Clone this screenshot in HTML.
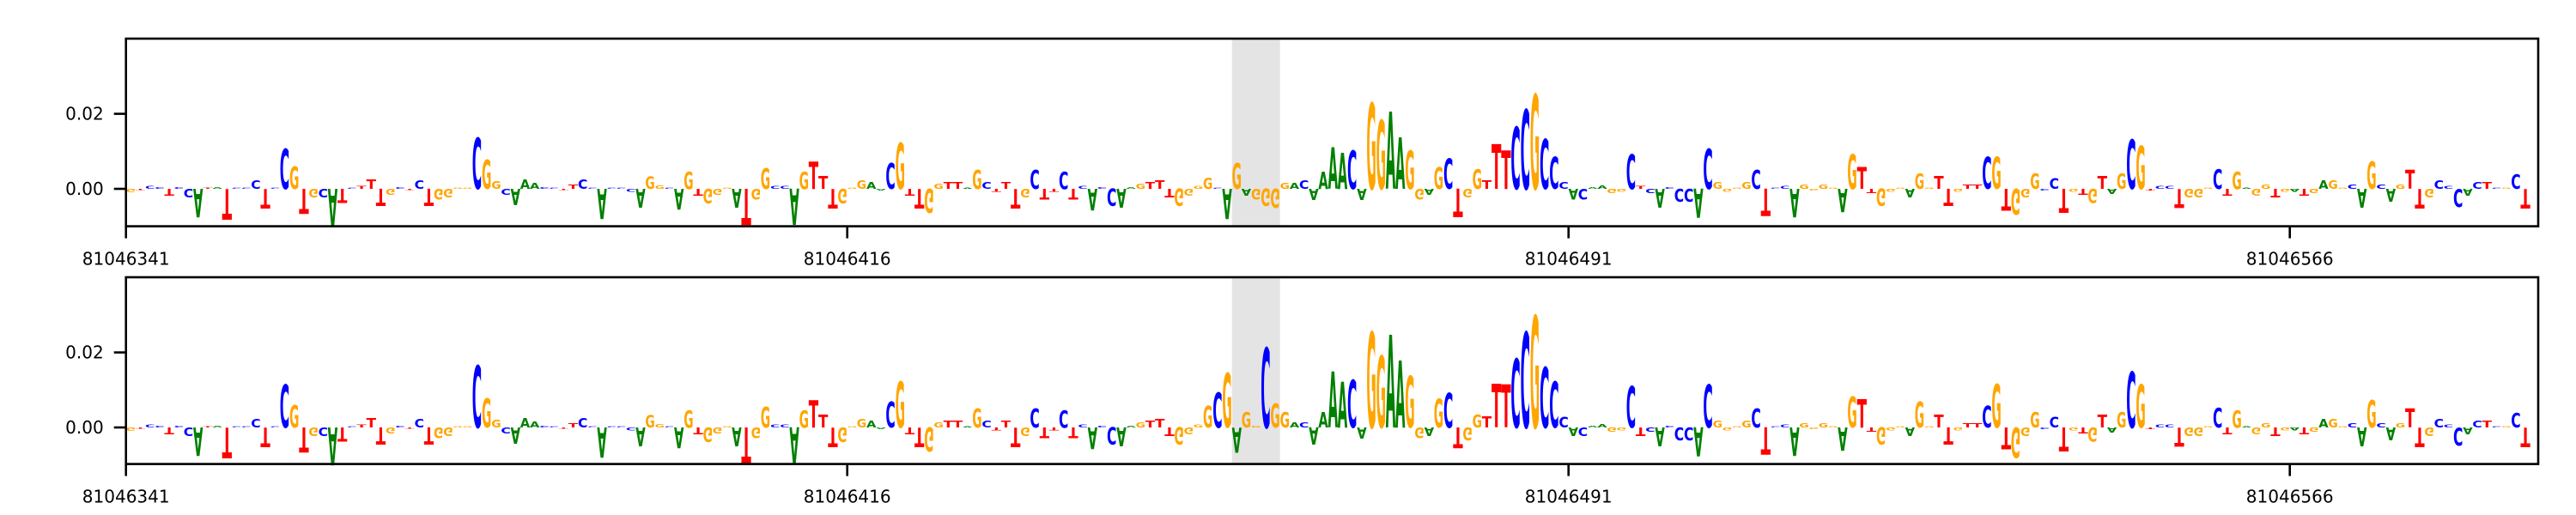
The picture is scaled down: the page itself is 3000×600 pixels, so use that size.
<!DOCTYPE html>
<html><head><meta charset="utf-8"><style>
html,body{margin:0;padding:0;background:#fff;}
svg{display:block;}
text{font-family:"DejaVu Sans","Liberation Sans",sans-serif;}
</style></head><body>
<svg id="chart" width="3000" height="600" viewBox="0 0 3000 600" xmlns="http://www.w3.org/2000/svg"></svg>
<script>
// Data (attribution heights in units of 1/4370 score)
const seq1 = ("GTCCTCCATA"+"TCCCTCCGTG"+"CATCTTTGCT"+"CTGGGGCGGC"+"AAACCTTCCA"+"CCCAGGCAGT"+"GGGATGGCCA"+"GTTTG"+"GGAAC"+
"GTTGGTTAGC"+"TTTGCTTCTC"+"ACCAAGTTTG"+"GGGCA"+"GAGGG"+"GACAAAACAG"+"GAAGGAGCTG"+"GTTTCCGCCC"+"ACAAGGCTC"+"ACCCA"+"CGGGGC"+
"TCCAGGGGAG"+"TTGGGAGGTT"+"GTTCGTGGGC"+"CTGTGTAGCG"+"TCCTGGGCTG"+"AGGTGATGAG"+"GCAGCAGTTG"+"CCCACTCGCT").split("");
const seq2 = ("GTCCTCCATA"+"TCCCTCCGTG"+"CATCTTTGCT"+"CTGGGGCGGC"+"AAACCTTCCA"+"CCCAGGCAGT"+"GGGATGGCCA"+"GTTTG"+"GGAAC"+
"GTTGGTTAGC"+"TTTGCTTCTC"+"ACCAAGTTTG"+"GGGCG"+"AGGCG"+"GACAAAACAG"+"GAAGGAGCTG"+"GTTTCCGCCC"+"ACAAGGCTC"+"ACCCA"+"CGGGGC"+
"TCCAGGGGAG"+"TTGGGAGGTT"+"GTTCGTGGGC"+"CTGTGTAGCG"+"TCCTGGGCTG"+"AGGTGATGAG"+"GCAGCAGTTG"+"CCCACTCGCT").split("");
const vals1 = [-4,-1,3,2,-8,2,-10,-33,1,2, -36,1,1,10,-23,1,47,26,-29,-10, -10,-44,-16,1,3,11,-20,-7,2,-1,
 10,-20,-12,-10,1,1,59,34,9,-7, -19,11,7,2,1,-1,5,11,1,-35, 1,1,-3,-22,14,4,1,-24,20,-8, -17,-7,1,-22,-42,-12,24,3,3,-42,
 20,32,15,-23,-17, 1,10,8,-2,30, 53,-8,-23,-28,6,8,8,1,22,8, -3,8,-23,-10,22,-12,-3,20,-12,3, -25,2,-20,-22,2,6,8,10,-10,-20,
 -8,3,13,1,-35, 30,-8,-12,-20,-22, 7,7,10,-13,20,48,42,45,-13,100, 80,90,60,45,-12,-7,25,35,-33,-10, 23,10,52,45,72,92,110,58,37,8,
 -12,-12,2,4,-5,-3,40,3,-5, -22,2,-15,-15,-34, 47,8,-3,1,8,22, -32,1,3,-33,5,-2,5,1,-27,40, 25,-5,-20,-3,1,-10,18,1,15,-20,
 -3,5,5,37,37,-25,-30,-10,18,-2, 12,-28,-3,-7,-16,15,-6,18,57,50, -2,3,3,-22,-10,-10,1,23,-8,20, 1,-8,5,-10,-3,-3,-8,-5,10,10,
 1,5,-22,32,5,-15,5,22,-23,-10, 10,3,-21,-8,8,8,1,1,17,-23];
const vals2 = [-4,-1,3,2,-8,2,-10,-33,1,2, -36,1,1,10,-23,1,50,26,-29,-10, -10,-44,-16,1,3,11,-20,-7,2,-1,
 10,-20,-12,-10,1,1,72,34,9,-7, -19,11,7,2,1,-1,5,11,1,-35, 1,1,-3,-22,14,4,1,-24,20,-8, -17,-7,1,-22,-42,-12,24,3,3,-42,
 20,32,15,-23,-17, 1,10,8,-2,30, 53,-8,-23,-28,6,8,8,1,22,8, -3,8,-23,-10,22,-12,-3,20,-12,3, -25,2,-20,-22,2,6,8,10,-10,-20,
 -8,3,25,41,63, -29,18,2,93,28, 18,6,6,-20,18,65,53,55,-13,111, 83,108,78,60,-12,-10,33,40,-24,-15, 15,13,51,50,80,111,130,70,53,12,
 -10,-10,2,4,-5,-3,48,-10,-5, -22,2,-15,-15,-34, 50,8,-3,1,8,22, -32,1,3,-33,5,-2,5,1,-27,36, 33,-5,-20,-3,1,-10,30,1,15,-20,
 -3,5,5,25,51,-25,-35,-10,18,-2, 12,-28,-3,-7,-16,15,-6,18,65,50, -2,3,3,-22,-10,-10,1,23,-8,20, 1,-8,5,-10,-3,-3,-8,-5,10,10,
 1,5,-22,32,5,-15,5,22,-23,-10, 10,3,-21,-8,8,8,1,1,17,-23];
const xTickPos = [0,75,150,225];
const xTickLabels = ["81046341","81046416","81046491","81046566"];
const yTickVals = [0,0.02];
const yTickLabels = ["0.00","0.02"];
const highlightRange = [115,120];

const NS="http://www.w3.org/2000/svg";
const svg=document.getElementById('chart');
const colors={A:"#008000",C:"#0000ff",G:"#ffa500",T:"#ff0000"};
const X0=146.7, X1=2956, STEP=11.2;
function xScale(p){return X0+p*STEP;}
const panels=[{top:45,bottom:263.6,zero:220,seq:seq1,vals:vals1,name:'top'},
              {top:323,bottom:540.6,zero:498,seq:seq2,vals:vals2,name:'bottom'}];
const PXPER=4370;
function mk(tag,attrs){const e=document.createElementNS(NS,tag);for(const k in attrs)e.setAttribute(k,attrs[k]);return e;}

panels.forEach(P=>{
  function yScale(v){return P.zero - v*PXPER;}
  const g=mk('g',{});
  
  
  svg.appendChild(g);
  const hl=mk('rect',{x:xScale(highlightRange[0]),y:P.top,width:xScale(highlightRange[1])-xScale(highlightRange[0]),height:P.bottom-P.top,fill:'#e4e4e4'});
  
  
  g.appendChild(hl);
  const F=20, CAP=0.729*F;
  P.vals.forEach((raw,i)=>{
    const v=raw/PXPER;
    const h=Math.abs(yScale(v)-P.zero);
    if(h<0.3) return;
    const L=P.seq[i];
    const sy=h/CAP;
    const cx=xScale(i+0.5);
    const t=mk('text',{x:0,y:0,'font-size':F,'font-weight':'bold','text-anchor':'middle',fill:colors[L],
      textLength:11.4,lengthAdjust:'spacingAndGlyphs',
      transform:`translate(${cx},${P.zero}) scale(1,${raw>=0?sy:-sy})`});
    t.textContent=L;
    
    
    g.appendChild(t);
  });
  const fr=mk('rect',{x:X0,y:P.top,width:X1-X0,height:P.bottom-P.top,fill:'none',stroke:'#000','stroke-width':2.6});
  
  
  g.appendChild(fr);
  yTickVals.forEach((v,k)=>{
    const y=yScale(v);
    const tk=mk('line',{x1:X0-14,x2:X0,y1:y,y2:y,stroke:'#000','stroke-width':2.6});
    
    
    g.appendChild(tk);
    const lb=mk('text',{x:X0-26,y:y+7,'font-size':20,'text-anchor':'end',fill:'#000'});
    lb.textContent=yTickLabels[k];
    
    
    g.appendChild(lb);
  });
  xTickPos.forEach((p,k)=>{
    const x=xScale(p);
    const tk=mk('line',{x1:x,x2:x,y1:P.bottom,y2:P.bottom+14,stroke:'#000','stroke-width':2.6});
    
    
    g.appendChild(tk);
    const lb=mk('text',{x:x,y:P.bottom+45,'font-size':20,'text-anchor':'middle',fill:'#000'});
    lb.textContent=xTickLabels[k];
    
    
    g.appendChild(lb);
  });
});
</script>
</body></html>
